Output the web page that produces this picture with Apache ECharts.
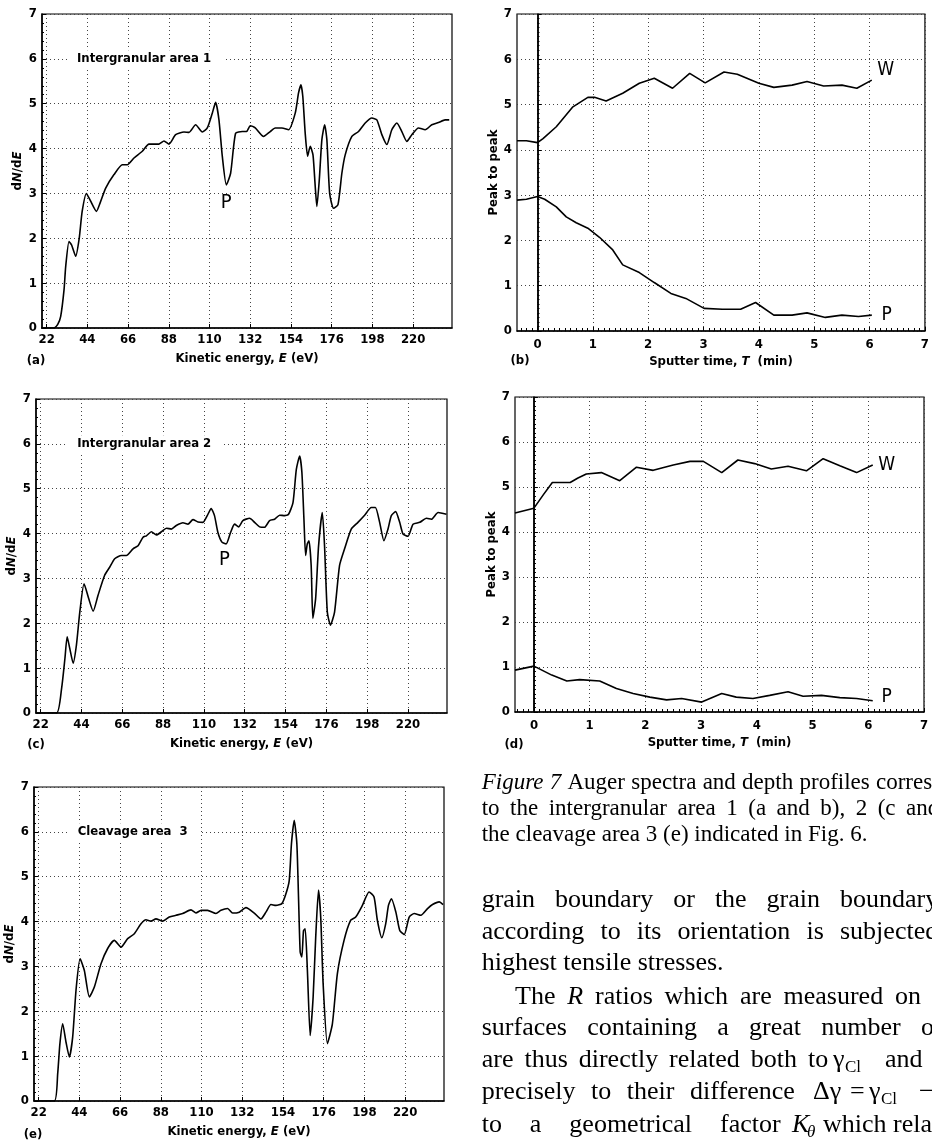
<!DOCTYPE html>
<html>
<head>
<meta charset="utf-8">
<script src="https://cdn.jsdelivr.net/npm/echarts@6/dist/echarts.min.js"></script>
<style>
html,body{margin:0;padding:0;background:#fff}
#main{width:932px;height:1147px}
</style>
</head>
<body>
<div id="main"></div>
<script>
// tick values
var energyTicks = [22, 44, 66, 88, 110, 132, 154, 176, 198, 220];
var timeTicks = [0, 1, 2, 3, 4, 5, 6, 7];

// Auger spectra, [E (eV), dN/dE]
var spectrumA = [[19,0],[26,0],[28,0.08],[29.6,0.26],[31.4,0.85],[32.3,1.37],[34.1,1.93],[35.5,1.85],[37.7,1.6],[39.6,2.0],[41.2,2.6],[43.5,3.0],[45.5,2.85],[48.9,2.6],[51,2.8],[53.9,3.12],[58.4,3.42],[62.9,3.64],[65.6,3.64],[69.2,3.79],[73.7,3.94],[77.3,4.1],[82.7,4.1],[85.4,4.17],[88.1,4.1],[91.7,4.31],[96.2,4.37],[98.9,4.36],[102.5,4.53],[106.1,4.37],[108.8,4.46],[111.5,4.79],[113.3,5.03],[115.1,4.64],[116.9,3.83],[119.1,3.19],[121.4,3.45],[124.1,4.34],[127.7,4.38],[130,4.38],[132,4.51],[134.7,4.46],[139.2,4.27],[142.8,4.38],[145.5,4.46],[149.1,4.46],[152.7,4.42],[156.3,4.79],[158.1,5.24],[159.4,5.42],[160.4,5.16],[161.7,4.34],[163,3.83],[164.4,4.05],[165.9,3.86],[167.1,3.16],[168,2.71],[169.3,3.3],[170.7,4.2],[172.2,4.53],[173.4,4.2],[174.9,3.0],[177,2.67],[179.4,2.75],[181.5,3.45],[183.3,3.86],[186.9,4.27],[190.5,4.38],[194.1,4.57],[197.7,4.68],[200.4,4.64],[203.1,4.31],[205.8,4.09],[208.5,4.42],[211.2,4.57],[213.9,4.38],[216.6,4.16],[219.3,4.31],[222.9,4.46],[226.5,4.42],[230.1,4.53],[233.7,4.58],[237.3,4.64],[239.5,4.64]];

var spectrumC = [[19.5,0],[30.6,0],[33.3,0.55],[35.1,1.22],[36.3,1.7],[37.7,1.44],[39.5,1.11],[41.3,1.52],[43.1,2.25],[45.4,2.88],[47.9,2.55],[50.3,2.27],[52.9,2.62],[56.5,3.07],[59.2,3.25],[61.9,3.44],[65.5,3.51],[68.2,3.51],[71.8,3.66],[74.5,3.73],[77.2,3.92],[79,3.95],[81.7,4.04],[84.4,3.97],[87.1,4.04],[89.8,4.12],[92.4,4.1],[95.1,4.18],[98.7,4.24],[101.4,4.21],[104.1,4.31],[106.8,4.26],[109.5,4.25],[111.8,4.4],[113.9,4.56],[115.7,4.4],[117.5,4.03],[119.7,3.81],[122,3.77],[124.4,4.03],[126.5,4.21],[128.7,4.15],[131,4.29],[134.6,4.34],[137.3,4.25],[140,4.15],[142.7,4.14],[145.4,4.29],[148.1,4.32],[150.8,4.41],[153.5,4.4],[155.6,4.43],[158,4.69],[159.8,5.43],[161.6,5.73],[162.8,5.36],[163.9,4.32],[164.8,3.51],[165.7,3.77],[166.6,3.84],[167.8,3.29],[168.7,2.11],[170.2,2.55],[171.8,3.73],[173.8,4.47],[175,3.73],[176.5,2.25],[178.2,1.96],[180.4,2.25],[183.1,3.29],[185.8,3.66],[189.4,4.1],[193,4.25],[196.6,4.41],[200.2,4.58],[202.4,4.58],[204.7,4.25],[207,3.84],[209.2,4.1],[211,4.4],[213.3,4.49],[215.5,4.25],[217.3,3.99],[220,3.94],[222.7,4.21],[226.3,4.25],[229.9,4.34],[232.6,4.32],[236.2,4.47],[240.7,4.43]];

var spectrumE = [[19.5,0],[30.5,0],[32.3,0.61],[33.5,1.28],[35,1.72],[36.8,1.31],[38.6,0.98],[40.4,1.43],[42.2,2.47],[44.4,3.17],[46.7,2.91],[49.4,2.32],[52.1,2.54],[55.7,3.06],[59.3,3.4],[62.9,3.58],[66.5,3.43],[70.1,3.62],[73.7,3.73],[77.3,3.95],[80,4.04],[82.7,4.01],[85.4,4.06],[89,4.01],[92.6,4.1],[96.2,4.14],[99.8,4.18],[104.3,4.26],[107,4.19],[109.7,4.25],[113.3,4.25],[117.8,4.18],[120.5,4.25],[124.1,4.29],[126.8,4.19],[130.4,4.21],[134,4.31],[138.5,4.19],[142.1,4.06],[144.8,4.21],[147.5,4.38],[150.2,4.36],[153.4,4.4],[155.6,4.62],[157.4,4.92],[158.6,5.74],[160.1,6.26],[161.5,5.74],[162.4,4.55],[163.3,3.32],[164.2,3.21],[165.1,3.8],[166,3.84],[167.2,2.91],[168.7,1.46],[170.3,2.32],[171.7,3.66],[173.2,4.7],[174.4,4.1],[175.7,2.62],[178,1.28],[180.7,1.72],[183.4,2.84],[187,3.58],[190.6,4.03],[193.3,4.1],[196.9,4.36],[200.5,4.66],[203.2,4.55],[205,4.03],[207.4,3.64],[209.5,3.95],[211,4.36],[212.6,4.51],[215,4.21],[217.1,3.8],[219.5,3.71],[222.2,4.1],[224.9,4.18],[228.5,4.14],[232.1,4.29],[234.8,4.38],[238.4,4.44],[240.5,4.38]];

// depth profiles, [T (min), peak to peak]
var profileB_W = [[-0.37,4.2],[-0.2,4.2],[0,4.16],[0.1,4.25],[0.34,4.51],[0.64,4.95],[0.91,5.16],[1.03,5.16],[1.24,5.08],[1.54,5.25],[1.84,5.47],[2.11,5.58],[2.44,5.36],[2.75,5.69],[3.03,5.48],[3.37,5.72],[3.61,5.67],[4.0,5.47],[4.27,5.38],[4.6,5.43],[4.87,5.51],[5.17,5.41],[5.5,5.43],[5.77,5.36],[6.04,5.54]];
var profileB_P = [[-0.37,2.89],[-0.2,2.91],[0,2.97],[0.13,2.91],[0.34,2.74],[0.52,2.52],[0.7,2.39],[0.91,2.27],[1.12,2.07],[1.36,1.79],[1.54,1.46],[1.84,1.29],[2.11,1.07],[2.41,0.83],[2.68,0.72],[3.01,0.5],[3.34,0.48],[3.67,0.48],[3.94,0.63],[4.27,0.35],[4.6,0.35],[4.87,0.4],[5.2,0.3],[5.5,0.35],[5.8,0.32],[6.04,0.35]];
var profileD_W = [[-0.34,4.42],[0,4.53],[0.17,4.83],[0.33,5.1],[0.65,5.1],[0.79,5.2],[0.94,5.29],[1.21,5.32],[1.54,5.14],[1.84,5.44],[2.14,5.37],[2.5,5.49],[2.8,5.57],[3.04,5.57],[3.37,5.32],[3.66,5.6],[3.96,5.52],[4.26,5.4],[4.56,5.46],[4.89,5.36],[5.19,5.63],[5.49,5.47],[5.79,5.32],[6.08,5.49]];
var profileD_P = [[-0.34,0.93],[0,1.02],[0.32,0.82],[0.59,0.69],[0.82,0.72],[1.18,0.69],[1.48,0.52],[1.78,0.41],[2.08,0.33],[2.38,0.27],[2.65,0.3],[3.01,0.22],[3.37,0.41],[3.63,0.33],[3.93,0.3],[4.23,0.37],[4.56,0.45],[4.83,0.35],[5.16,0.37],[5.49,0.32],[5.79,0.3],[6.08,0.25]];

var SANS = "'DejaVu Sans Condensed', 'Liberation Sans Narrow', 'Liberation Sans', sans-serif";
var SERIF = "'Liberation Serif', 'DejaVu Serif', serif";
var W8 = 'bold';

var minorTime = [];
for (var k = -3; k <= 70; k++) { if (k % 10 !== 0) minorTime.push(k / 10); }

var grids = [
  {left: 42, top: 14, width: 410, height: 314},
  {left: 517, top: 14, width: 410, height: 317},
  {left: 36, top: 399, width: 411, height: 314},
  {left: 515, top: 397, width: 409, height: 315},
  {left: 34, top: 787, width: 410, height: 314}
].map(function (g) {
  return Object.assign({show: true, borderColor: '#000', borderWidth: 1.2, backgroundColor: 'transparent'}, g);
});

var gridLineStyle = {type: [1, 3], color: '#444', width: 1};
var nameRich = {
  n: {fontFamily: SANS, fontSize: 13, fontWeight: W8, color: '#000'},
  i: {fontFamily: SANS, fontSize: 13, fontWeight: W8, color: '#000', fontStyle: 'italic'}
};

function energyAxis(gi) {
  return {
    type: 'value', gridIndex: gi, min: 19.5, max: 241,
    name: '{n|Kinetic energy, }{i|E}{n| (eV)}', nameLocation: 'middle', nameGap: 24,
    nameTextStyle: {rich: nameRich},
    axisLine: {show: true, onZero: false, lineStyle: {color: '#000', width: 1.5}},
    axisTick: {show: true, inside: true, length: 4, customValues: energyTicks, lineStyle: {color: '#000'}},
    axisLabel: {customValues: energyTicks, color: '#000', fontSize: 13, fontWeight: W8, fontFamily: SANS, margin: 5},
    splitLine: {show: true, lineStyle: gridLineStyle}
  };
}
function timeAxis(gi, min) {
  return {
    type: 'value', gridIndex: gi, min: min, max: 7,
    name: '{n|Sputter time, }{i|T}{n|  (min)}', nameLocation: 'middle', nameGap: 24,
    nameTextStyle: {rich: nameRich},
    axisLine: {show: true, onZero: false, lineStyle: {color: '#000', width: 1.5}},
    axisTick: {show: true, inside: true, length: 4, customValues: timeTicks, lineStyle: {color: '#000'}},
    axisLabel: {customValues: timeTicks, color: '#000', fontSize: 13, fontWeight: W8, fontFamily: SANS, margin: 7},
    splitLine: {show: true, lineStyle: gridLineStyle}
  };
}
function minorAxis(gi, min) {
  return {
    type: 'value', gridIndex: gi, min: min, max: 7, position: 'bottom',
    axisLine: {show: false},
    axisTick: {show: true, inside: true, length: 3, customValues: minorTime, lineStyle: {color: '#000'}},
    axisLabel: {show: false},
    splitLine: {show: false}
  };
}
function valueAxis(gi, name, gap, minorSplit) {
  return {
    type: 'value', gridIndex: gi, min: 0, max: 7, interval: 1,
    name: name, nameLocation: 'middle', nameGap: gap,
    nameTextStyle: {rich: nameRich, fontFamily: SANS, fontSize: 13, fontWeight: W8, color: '#000'},
    axisLine: {show: true, lineStyle: {color: '#000', width: 1.5}},
    axisTick: {show: true, inside: true, length: 4, lineStyle: {color: '#000'}},
    minorTick: {show: true, splitNumber: minorSplit, length: 2, lineStyle: {color: '#000'}},
    axisLabel: {color: '#000', fontSize: 13, fontWeight: W8, fontFamily: SANS, margin: 5},
    splitLine: {show: true, lineStyle: gridLineStyle}
  };
}

function textMark(coord, text, size, extra) {
  return {
    coord: coord, symbol: 'circle', symbolSize: 0,
    label: Object.assign({show: true, formatter: text, position: 'inside', color: '#000',
      fontSize: size, fontFamily: SANS}, extra || {})
  };
}
function areaMark(coord, text) {
  return textMark(coord, text, 13, {position: 'right', distance: 0, fontWeight: W8,
    backgroundColor: '#fff', padding: [2, 12, 2, 10]});
}

var lineBase = {type: 'line', showSymbol: false, symbol: 'none', silent: true,
  lineStyle: {color: '#000', width: 1.6}, z: 3};

function spectrum(idx, data, marks) {
  return Object.assign({}, lineBase, {
    xAxisIndex: idx, yAxisIndex: idx, data: data, smooth: 0.2,
    markPoint: {silent: true, data: marks}
  });
}
function profile(xi, yi, data, marks, zeroLine) {
  var s = Object.assign({}, lineBase, {xAxisIndex: xi, yAxisIndex: yi, data: data,
    markPoint: {silent: true, data: marks}});
  if (zeroLine) {
    s.markLine = {silent: true, symbol: 'none', label: {show: false},
      lineStyle: {type: 'solid', color: '#000', width: 1.5}, data: [{xAxis: 0}]};
  }
  return s;
}

// page text helpers
var measureCtx = document.createElement('canvas').getContext('2d');
function wordWidth(s, size, italic) {
  measureCtx.font = (italic ? 'italic ' : '') + size + 'px ' + SERIF;
  return measureCtx.measureText(s).width;
}
function t(x, y, s, size, extra) {
  return {type: 'text', x: x, y: y, silent: true,
    style: Object.assign({text: s, fontSize: size, fontFamily: SERIF, fill: '#000', verticalAlign: 'middle'}, extra || {})};
}
// spread words between x0 and the start of the last word, like justified type
function justify(y, size, x0, xLast, list) {
  var items = list.map(function (w) { return typeof w === 'string' ? [w, null] : w; });
  var widths = items.map(function (w) { return wordWidth(w[0], size, w[1] && w[1].fontStyle === 'italic'); });
  var n = items.length, used = 0;
  for (var i = 0; i < n - 1; i++) used += widths[i];
  var gap = n > 1 ? (xLast - x0 - used) / (n - 1) : 0;
  var x = x0, out = [];
  items.forEach(function (w, i) {
    out.push(t(x, y, w[0], size, w[1]));
    x += widths[i] + gap;
  });
  return out;
}
function panelTag(x, y, s) {
  return {type: 'text', x: x, y: y, silent: true,
    style: {text: s, fontSize: 13, fontWeight: W8, fontFamily: SANS, fill: '#000', align: 'center', verticalAlign: 'middle'}};
}
var it = {fontStyle: 'italic'};
var sub = {fontSize: 17};

var cap = 23, body = 26;
var graphics = [
  panelTag(36, 361, '(a)'), panelTag(520, 361, '(b)'), panelTag(36, 745, '(c)'),
  panelTag(514, 745, '(d)'), panelTag(33, 1135, '(e)')
].concat(
  justify(783, cap, 481.7, 876, [['Figure', it], ['7', it], 'Auger', 'spectra', 'and', 'depth', 'profiles', 'corresponding']),
  justify(809, cap, 481.7, 906, ['to', 'the', 'intergranular', 'area', '1', '(a', 'and', 'b),', '2', '(c', 'and']),
  [t(481.7, 835, 'the cleavage area 3 (e) indicated in Fig. 6.', cap)],
  justify(900, body, 481.7, 840, ['grain', 'boundary', 'or', 'the', 'grain', 'boundary']),
  justify(932, body, 481.7, 840, ['according', 'to', 'its', 'orientation', 'is', 'subjected']),
  [t(481.7, 963, 'highest tensile stresses.', body)],
  justify(997, body, 515, 895, ['The', ['R', it], 'ratios', 'which', 'are', 'measured', 'on']),
  justify(1028, body, 481.7, 921, ['surfaces', 'containing', 'a', 'great', 'number', 'of']),
  justify(1060, body, 481.7, 808, ['are', 'thus', 'directly', 'related', 'both', 'to']),
  [t(833, 1060, '\u03b3', body), t(845, 1068, 'Cl', body, sub), t(885, 1060, 'and', body)],
  justify(1092, body, 481.7, 690, ['precisely', 'to', 'their', 'difference']),
  [t(813, 1092, '\u0394\u03b3', body), t(850, 1092, '=', body), t(869, 1092, '\u03b3', body),
   t(881, 1100, 'Cl', body, sub), t(919, 1092, '\u2212', body)],
  justify(1125, body, 481.7, 720, ['to', 'a', 'geometrical', 'factor']),
  [t(792, 1125, 'K', body, it), t(807, 1133, '\u03b8', body, {fontSize: 17, fontStyle: 'italic'}),
   t(823, 1125, 'which relates to', body)]
);

var chart = echarts.init(document.getElementById('main'), null, {renderer: 'canvas'});
chart.setOption({
  animation: false,
  backgroundColor: '#fff',
  grid: grids,
  xAxis: [energyAxis(0), timeAxis(1, -0.37), energyAxis(2), timeAxis(3, -0.34), energyAxis(4),
    minorAxis(1, -0.37), minorAxis(3, -0.34)],
  yAxis: [
    valueAxis(0, '{n|d}{i|N}{n|/d}{i|E}', 18, 5),
    valueAxis(1, 'Peak to peak', 15, 10),
    valueAxis(2, '{n|d}{i|N}{n|/d}{i|E}', 18, 5),
    valueAxis(3, 'Peak to peak', 15, 10),
    valueAxis(4, '{n|d}{i|N}{n|/d}{i|E}', 18, 5)
  ],
  series: [
    spectrum(0, spectrumA, [areaMark([33, 6], 'Intergranular area 1'), textMark([119, 2.8], 'P', 20)]),
    profile(1, 1, profileB_W, [textMark([6.29, 5.76], 'W', 19)], true),
    profile(1, 1, profileB_P, [textMark([6.31, 0.35], 'P', 19)], false),
    spectrum(2, spectrumC, [areaMark([36.3, 6], 'Intergranular area 2'), textMark([121, 3.41], 'P', 20)]),
    profile(3, 3, profileD_W, [textMark([6.33, 5.49], 'W', 19)], true),
    profile(3, 3, profileD_P, [textMark([6.33, 0.33], 'P', 19)], false),
    spectrum(4, spectrumE, [areaMark([37.7, 6], 'Cleavage area  3')])
  ],
  graphic: graphics
});
</script>
</body>
</html>
